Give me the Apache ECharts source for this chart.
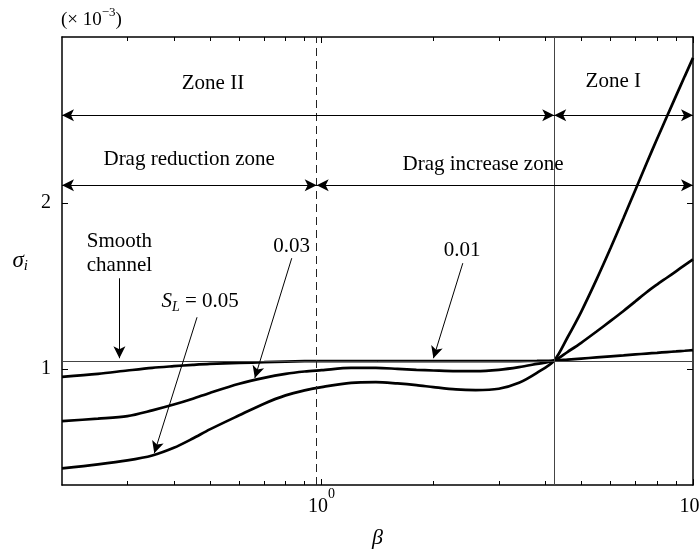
<!DOCTYPE html>
<html><head><meta charset="utf-8">
<script src="https://cdn.jsdelivr.net/npm/echarts@6/dist/echarts.min.js"></script>
<style>html,body{margin:0;padding:0;background:#fff}#c{width:700px;height:552px}</style>
</head><body><div id="c"></div>
<script>
// ---- data (sigma_i in units of 1e-3) ----
const beta = [0.2, 0.25, 0.3, 0.35, 0.4, 0.45, 0.5, 0.6, 0.7, 0.8, 0.9, 1.0, 1.2, 1.4, 1.6, 1.8, 2.0, 2.3, 2.6, 3.0, 3.4, 3.8, 4.23, 4.6, 5.0, 5.5, 6.0, 6.5, 7.0, 7.5, 8.0, 8.5, 9.0, 9.5, 10];
const sigmaSL005 = [0.40, 0.424, 0.448, 0.478, 0.524, 0.58, 0.635, 0.72, 0.79, 0.84, 0.87, 0.89, 0.916, 0.92, 0.912, 0.902, 0.89, 0.876, 0.872, 0.88, 0.916, 0.976, 1.05, 1.192, 1.344, 1.539, 1.728, 1.909, 2.08, 2.239, 2.385, 2.519, 2.645, 2.763, 2.874];
const sigmaSL003 = [0.685, 0.70, 0.715, 0.75, 0.785, 0.82, 0.855, 0.91, 0.946, 0.97, 0.984, 0.992, 1.006, 1.006, 1.0, 0.994, 0.99, 0.986, 0.986, 0.994, 1.01, 1.03, 1.05, 1.103, 1.157, 1.225, 1.289, 1.349, 1.407, 1.462, 1.508, 1.549, 1.588, 1.625, 1.66];
const sigmaSL001 = [0.952, 0.97, 0.99, 1.006, 1.016, 1.024, 1.03, 1.036, 1.04, 1.044, 1.046, 1.047, 1.047, 1.047, 1.047, 1.047, 1.047, 1.047, 1.047, 1.047, 1.047, 1.048, 1.05, 1.056, 1.062, 1.069, 1.0755, 1.081, 1.087, 1.092, 1.0965, 1.101, 1.105, 1.109, 1.113];
const smoothChannel = 1.048;
const dragBoundary = 0.97;   // drag reduction / increase boundary
const zoneBoundary = 4.23;   // zone II / zone I boundary
const xRange = [0.2, 10];
const yRange = [0.3, 3.0];
const xMajorTicks = [1, 10];
const xMinorTicks = [0.3, 0.4, 0.5, 0.6, 0.7, 0.8, 0.9, 2, 3, 4, 5, 6, 7, 8, 9];
const yTicks = [1, 2];

// ---- styling ----
const FF = 'Liberation Serif';
const black = '#000';
const pair = (a, b) => a.map((v, i) => [v, b[i]]);

const supRich = {
  b: { fontFamily: FF, fontSize: 20, color: black, lineHeight: 30, verticalAlign: 'bottom' },
  s: { fontFamily: FF, fontSize: 14, color: black, lineHeight: 14, verticalAlign: 'top' }
};

function textPt(coord, formatter, extraRich) {
  return {
    coord: coord,
    symbol: 'circle', symbolSize: 1,
    itemStyle: { color: 'rgba(0,0,0,0)' },
    label: {
      show: true, position: 'inside', formatter: formatter,
      fontFamily: FF, fontSize: 21, color: black, lineHeight: 24,
      rich: extraRich || {}
    }
  };
}
function seg(p0, p1, s0, s1, style) {
  return [
    { coord: p0, symbol: s0, symbolSize: [9, 12], lineStyle: style },
    { coord: p1, symbol: s1, symbolSize: [9, 12] }
  ];
}
const thin = { color: black, width: 1, type: 'solid' };
const grayThin = { color: '#444', width: 1, type: 'solid' };
const dashed = { color: '#222', width: 1, type: [8, 5] };

const yRowZone = 2.528, yRowDrag = 2.107;

const markLines = [
  seg([xRange[0], smoothChannel], [xRange[1], smoothChannel], 'none', 'none', grayThin),
  seg([dragBoundary, yRange[0]], [dragBoundary, yRange[1]], 'none', 'none', dashed),
  seg([zoneBoundary, yRange[0]], [zoneBoundary, yRange[1]], 'none', 'none', grayThin),
  seg([xRange[0], yRowZone], [zoneBoundary, yRowZone], 'arrow', 'arrow', thin),
  seg([zoneBoundary, yRowZone], [xRange[1], yRowZone], 'arrow', 'arrow', thin),
  seg([xRange[0], yRowDrag], [dragBoundary, yRowDrag], 'arrow', 'arrow', thin),
  seg([dragBoundary, yRowDrag], [xRange[1], yRowDrag], 'arrow', 'arrow', thin),
  seg([0.2855, 1.546], [0.2855, 1.064], 'none', 'arrow', thin),
  seg([0.831, 1.667], [0.661, 0.945], 'none', 'arrow', thin),
  seg([0.462, 1.311], [0.3544, 0.492], 'none', 'arrow', thin),
  seg([2.40, 1.637], [2.0, 1.064], 'none', 'arrow', thin)
];

const markTexts = [
  textPt([0.51, 2.72], 'Zone II'),
  textPt([6.1, 2.733], 'Zone I'),
  textPt([0.44, 2.263], 'Drag reduction zone'),
  textPt([2.72, 2.233], 'Drag increase zone'),
  textPt([0.2855, 1.697], 'Smooth\nchannel'),
  textPt([0.831, 1.738], '0.03'),
  textPt([2.39, 1.715], '0.01'),
  textPt([0.471, 1.408], '{i|S}{sub|L}{n| = 0.05}', {
    i: { fontFamily: FF, fontSize: 21, fontStyle: 'italic', color: black, lineHeight: 26 },
    sub: { fontFamily: FF, fontSize: 14, fontStyle: 'italic', color: black, lineHeight: 14, verticalAlign: 'bottom' },
    n: { fontFamily: FF, fontSize: 21, color: black, lineHeight: 26 }
  })
];

function xAx(pos, ticks, len, labels, line) {
  return {
    type: 'log', logBase: 10, min: xRange[0], max: xRange[1], position: pos,
    axisLine: { show: line, onZero: false, lineStyle: { color: black, width: 1.5 } },
    axisTick: { show: true, inside: true, length: len, customValues: ticks, lineStyle: { color: black, width: 1 } },
    axisLabel: labels ? {
      show: true, customValues: ticks, margin: 2,
      formatter: v => '{b|10}{s|' + Math.round(Math.log10(v)) + '}', rich: supRich
    } : { show: false },
    splitLine: { show: false }, minorTick: { show: false }
  };
}
function yAx(pos, labels) {
  return {
    type: 'value', min: yRange[0], max: yRange[1], position: pos,
    axisLine: { show: true, onZero: false, lineStyle: { color: black, width: 1.5 } },
    axisTick: { show: true, inside: true, length: 6, customValues: yTicks, lineStyle: { color: black, width: 1 } },
    axisLabel: labels ? { show: true, customValues: yTicks, margin: 11, fontFamily: FF, fontSize: 20, color: black } : { show: false },
    splitLine: { show: false },
    name: labels ? '{g|σ}{sub|i}' : '',
    nameLocation: 'middle', nameRotate: 0, nameGap: 34,
    nameTextStyle: { rich: {
      g: { fontFamily: FF, fontSize: 23, fontStyle: 'italic', color: black, lineHeight: 26 },
      sub: { fontFamily: FF, fontSize: 15, fontStyle: 'italic', color: black, lineHeight: 14, verticalAlign: 'bottom' }
    } }
  };
}

const xAxes = [
  xAx('bottom', xMajorTicks, 6, true, true),
  xAx('bottom', xMinorTicks, 4, false, false),
  xAx('top', xMajorTicks, 6, false, true),
  xAx('top', xMinorTicks, 4, false, false)
];
xAxes[0].name = 'β';
xAxes[0].nameLocation = 'middle';
xAxes[0].nameGap = 42;
xAxes[0].nameTextStyle = { fontFamily: FF, fontSize: 22, fontStyle: 'italic', color: black };

const curveStyle = { color: black, width: 2.7 };
function curve(name, ys) {
  return {
    type: 'line', name: name, xAxisIndex: 0, yAxisIndex: 0,
    data: pair(beta, ys), smooth: 0.3, showSymbol: false, symbol: 'none',
    lineStyle: curveStyle, itemStyle: { color: black }, silent: true
  };
}
const s1 = curve('S_L=0.05', sigmaSL005);
s1.markLine = { silent: true, symbol: ['none', 'none'], label: { show: false }, emphasis: { disabled: true }, animation: false, data: markLines };
s1.markPoint = { silent: true, animation: false, data: markTexts };

const chart = echarts.init(document.getElementById('c'), null, { renderer: 'canvas' });
chart.setOption({
  backgroundColor: '#fff',
  animation: false,
  grid: { left: 62, right: 7, top: 37, bottom: 67, containLabel: false, outerBoundsMode: 'none' },
  xAxis: xAxes,
  yAxis: [yAx('left', true), yAx('right', false)],
  graphic: [{
    type: 'text', left: 61, top: 6,
    style: { text: '{n|(× 10}{s|−3}{n|)}', fill: black,
      rich: {
        n: { fontFamily: FF, fontSize: 19, fill: black, lineHeight: 24, verticalAlign: 'bottom' },
        s: { fontFamily: FF, fontSize: 13, fill: black, lineHeight: 13, verticalAlign: 'top' }
      } }
  }],
  series: [s1, curve('S_L=0.03', sigmaSL003), curve('S_L=0.01', sigmaSL001)]
});
</script></body></html>
